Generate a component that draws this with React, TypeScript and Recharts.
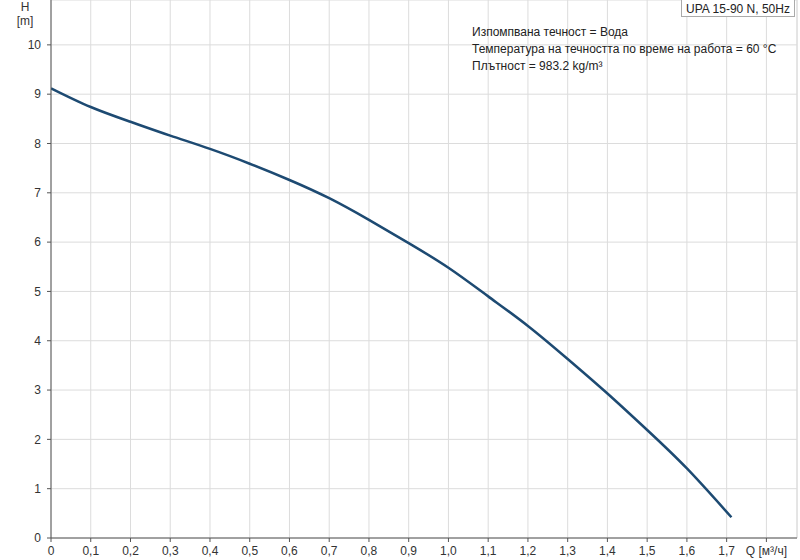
import React from "react";
import { LineChart, Line, XAxis, YAxis, CartesianGrid, ReferenceLine } from "recharts";

const flowQ = [0, 0.1, 0.2, 0.3, 0.4, 0.5, 0.6, 0.7, 0.8, 0.9, 1.0, 1.1, 1.2, 1.3, 1.4, 1.5, 1.6, 1.712];
const headH = [9.12, 8.74, 8.44, 8.16, 7.89, 7.59, 7.26, 6.89, 6.45, 5.98, 5.48, 4.9, 4.3, 3.63, 2.93, 2.19, 1.41, 0.42];
const xTicks = [0, 0.1, 0.2, 0.3, 0.4, 0.5, 0.6, 0.7, 0.8, 0.9, 1.0, 1.1, 1.2, 1.3, 1.4, 1.5, 1.6, 1.7, 1.8];
const yTicks = [0, 1, 2, 3, 4, 5, 6, 7, 8, 9, 10];
const xMax = 1.877;
const yMax = 10.91;
const infoLines = [
  "Изпомпвана течност = Вода",
  "Температура на течността по време на работа = 60 °C",
  "Плътност = 983.2 kg/m³",
];
const pumpTitle = "UPA 15-90 N, 50Hz";
const yUnitTop = "H";
const yUnitBottom = "[m]";
const xUnit = "Q [м³/ч]";

const data = flowQ.map((q, i) => ({ q, h: headH[i] }));

const FONT = "'Liberation Sans', Arial, sans-serif";
const textColor = "#333";

const formatX = (v: number) => {
  if (Math.abs(v - 1.8) < 1e-6) return xUnit;
  if (v === 0) return "0";
  return v.toFixed(1).replace(".", ",");
};

export default function App() {
  return (
    <div style={{ position: "absolute", left: 0, top: 0, width: 800, height: 560, background: "#fff", fontFamily: FONT }}>
      <LineChart width={800} height={560} data={data} margin={{ top: 0, right: 3, left: 0, bottom: 0 }}>
        <CartesianGrid stroke="#dcdcdc" strokeWidth={1} />
        <ReferenceLine x={xMax} stroke="#dcdcdc" />
        <XAxis
          dataKey="q"
          type="number"
          domain={[0, xMax]}
          ticks={xTicks}
          tickFormatter={formatX}
          height={22}
          tickSize={4}
          tickMargin={4}
          stroke="#555"
          tick={{ fill: textColor, fontSize: 12, fontFamily: FONT }}
          interval={0}
          allowDataOverflow
        />
        <YAxis
          type="number"
          domain={[0, yMax]}
          ticks={yTicks}
          width={51}
          tickSize={4}
          tickMargin={6}
          stroke="#555"
          tick={{ fill: textColor, fontSize: 12, fontFamily: FONT }}
          interval={0}
          allowDataOverflow
        />
        <Line
          type="natural"
          dataKey="h"
          stroke="#1d4a72"
          strokeWidth={2.5}
          dot={false}
          isAnimationActive={false}
        />
      </LineChart>
      <div style={{ position: "absolute", left: 18, top: 0, width: 14, textAlign: "center", fontSize: 12, lineHeight: "14px", color: textColor }}>
        {yUnitTop}
      </div>
      <div style={{ position: "absolute", left: 15, top: 14, width: 20, textAlign: "center", fontSize: 12, lineHeight: "14px", color: textColor }}>
        {yUnitBottom}
      </div>
      <div style={{ position: "absolute", left: 472, top: 24, fontSize: 12, color: "#222", lineHeight: "17px" }}>
        {infoLines.map((t) => (
          <div key={t}>{t}</div>
        ))}
      </div>
      <div
        style={{
          position: "absolute",
          left: 681,
          top: -1,
          width: 112,
          height: 16,
          border: "1px solid #aaa",
          background: "#fff",
          fontSize: 12,
          color: "#222",
          lineHeight: "18px",
          textAlign: "center",
        }}
      >
        {pumpTitle}
      </div>
    </div>
  );
}
